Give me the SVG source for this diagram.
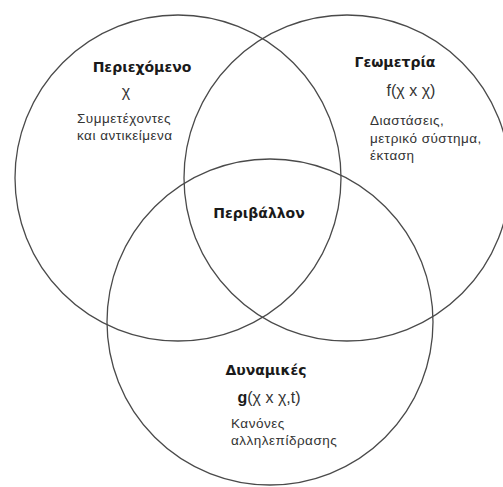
<svg xmlns="http://www.w3.org/2000/svg" width="503" height="487" viewBox="0 0 503 487">
<style>
.c{fill:none;stroke:#4a4a4a;stroke-width:1.3}
.h{font-family:"DejaVu Sans","Liberation Sans",sans-serif;font-weight:bold;font-size:14px;fill:#1a1a1a;text-anchor:middle}
.f{font-family:"Liberation Sans",Arial,sans-serif;font-size:16px;fill:#333}
.t{font-family:"Liberation Sans",Arial,sans-serif;font-size:13.5px;letter-spacing:0.5px;fill:#333}
</style>
<rect width="503" height="487" fill="#fff"/>
<g id="connectors"></g>
<g id="content">
<circle class="c" cx="178" cy="178" r="163"/>
<text class="h" x="142" y="72">Περιεχόμενο</text>
<text class="f" x="126" y="97" text-anchor="middle">χ</text>
<text class="t" x="77" y="123">Συμμετέχοντες</text>
<text class="t" x="77" y="140">και αντικείμενα</text>
</g>
<g id="geometry">
<circle class="c" cx="347" cy="178" r="163"/>
<text class="h" x="395" y="67">Γεωμετρία</text>
<text class="f" x="411" y="96" text-anchor="middle">f(χ x χ)</text>
<text class="t" x="370" y="125">Διαστάσεις,</text>
<text class="t" x="370" y="143">μετρικό σύστημα,</text>
<text class="t" x="370" y="160">έκταση</text>
</g>
<g id="dynamics">
<circle class="c" cx="270" cy="322" r="163"/>
<text class="h" x="266" y="375">Δυναμικές</text>
<text class="f" x="269" y="403" text-anchor="middle"><tspan font-weight="bold" fill="#1a1a1a">g</tspan>(χ x χ,t)</text>
<text class="t" x="231" y="428">Κανόνες</text>
<text class="t" x="231" y="445">αλληλεπίδρασης</text>
</g>
<g id="environment">
<text class="h" x="259" y="218">Περιβάλλον</text>
</g>
</svg>
